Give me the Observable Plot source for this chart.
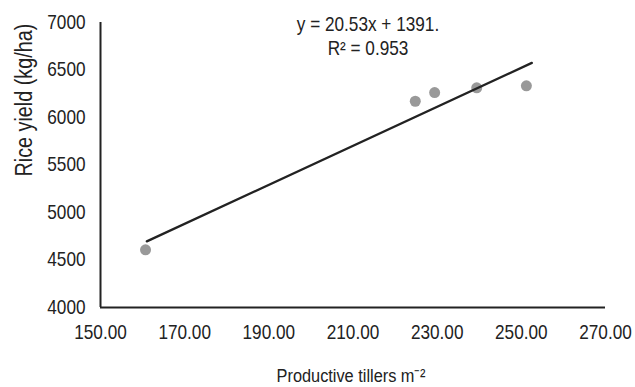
<!DOCTYPE html>
<html>
<head>
<meta charset="utf-8">
<script src="https://cdn.jsdelivr.net/npm/d3@7"></script>
<script src="https://cdn.jsdelivr.net/npm/@observablehq/plot@0.6"></script>
<style>
  html, body { margin: 0; padding: 0; background: #fff; }
  #chart svg { display: block; }
</style>
</head>
<body>
<div id="chart"></div>
<script>
// Data
const tillers = [160.7, 224.8, 229.4, 239.4, 251.2];
const yieldKg = [4607, 6171, 6263, 6312, 6334];
const slope = 20.53;
const intercept = 1391;
const trendX = [161, 252.5];
const equationLabel = "y = 20.53x + 1391.\nR² = 0.953";
const xTitle = "Productive tillers m⁻²";
const yTitle = "Rice yield (kg/ha)";
const xTicks = [150, 170, 190, 210, 230, 250, 270];
const yTicks = [4000, 4500, 5000, 5500, 6000, 6500, 7000];

const points = tillers.map((x, i) => ({x, y: yieldKg[i]}));
const trend = trendX.map(x => ({x, y: slope * x + intercept}));

const font = "'Liberation Sans', Arial, Helvetica, sans-serif";
const ink = "#222";

const chart = Plot.plot({
  width: 635,
  height: 387,
  marginLeft: 100,
  marginRight: 30,
  marginTop: 22,
  marginBottom: 80,
  style: {fontFamily: font, fontSize: "20px", color: ink, background: "#fff", overflow: "visible"},
  x: {domain: [150, 270], ticks: xTicks, tickFormat: d => d.toFixed(2), tickSize: 0, tickPadding: 17, label: null},
  y: {domain: [4000, 7000], ticks: yTicks, tickFormat: d => String(d), tickSize: 0, tickPadding: 15, label: null},
  marks: [
    Plot.ruleX([150], {stroke: ink, strokeWidth: 2}),
    Plot.ruleY([4000], {stroke: ink, strokeWidth: 2}),
    Plot.dot(points, {x: "x", y: "y", r: 5.5, fill: "#999999", stroke: "none"}),
    Plot.line(trend, {x: "x", y: "y", stroke: ink, strokeWidth: 2.3}),
    Plot.text([equationLabel], {frameAnchor: "top", dx: 15, dy: 12.5, lineAnchor: "middle", lineHeight: 1.22,
      fontSize: 20, fill: ink, text: d => d}),
    Plot.text([xTitle], {frameAnchor: "bottom", dx: -2, dy: 68, lineAnchor: "middle", fontSize: 19, fill: ink, text: d => d}),
    Plot.text([yTitle], {frameAnchor: "left", dx: -76, dy: 11.5, rotate: -90, lineAnchor: "middle", fontSize: 23, fill: ink, text: d => d})
  ]
});
// condense all text horizontally to mimic the narrow sans of the reference
chart.querySelectorAll("text").forEach(t => {
  const tr = t.getAttribute("transform") || "";
  t.setAttribute("transform", (tr + " scale(0.86,1)").trim());
});
document.getElementById("chart").appendChild(chart);
</script>
</body>
</html>
